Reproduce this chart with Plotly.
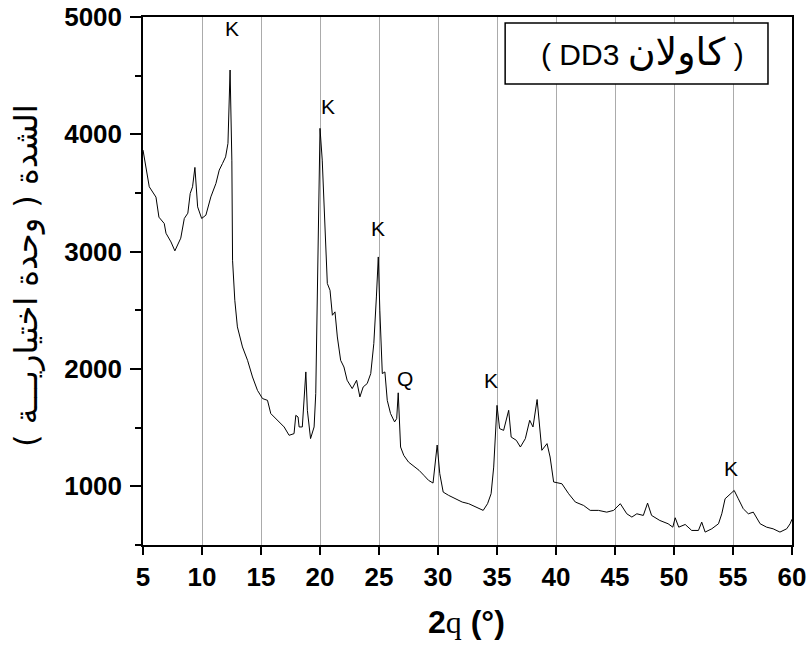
import plotly.graph_objects as go

two_theta = [5.0, 5.53, 6.1, 6.35, 6.8, 6.95, 7.37, 7.7, 8.2, 8.5, 8.8, 9.0, 9.2, 9.4, 9.63, 9.97,
             10.33, 10.75, 11.18, 11.46, 11.74, 12.0, 12.2, 12.38, 12.53, 12.59, 12.78, 13.0, 13.43,
             13.86, 14.28, 14.7, 15.13, 15.55, 15.83, 16.4, 16.96, 17.38, 17.8, 17.95, 18.14, 18.23,
             18.5, 18.8, 18.93, 19.2, 19.5, 19.64, 19.84, 20.0, 20.19, 20.33, 20.62, 20.85, 21.05,
             21.27, 21.47, 21.75, 22.03, 22.3, 22.73, 23.1, 23.38, 23.66, 24.0, 24.3, 24.56, 24.78,
             24.94, 25.07, 25.28, 25.5, 25.7, 25.98, 26.32, 26.5, 26.63, 26.83, 27.1, 27.5, 27.95,
             28.4, 28.8, 29.2, 29.58, 29.93, 30.15, 30.44, 30.9, 31.48, 32.05, 32.6, 33.18, 33.83,
             34.2, 34.5, 34.72, 34.87, 35.0, 35.22, 35.56, 35.99, 36.2, 36.64, 36.98, 37.4, 37.77,
             38.05, 38.4, 38.8, 39.24, 39.5, 39.8, 40.5, 41.07, 41.64, 42.34, 42.9, 43.6, 44.3,
             44.88, 45.45, 46.0, 46.43, 46.85, 47.4, 47.76, 48.1, 48.8, 49.5, 49.9, 50.1, 50.4,
             50.95, 51.5, 52.07, 52.35, 52.64, 53.2, 53.77, 54.05, 54.33, 54.75, 55.1, 55.45, 55.87,
             56.3, 56.72, 57.3, 57.85, 58.4, 58.98, 59.55, 59.84, 60.0]
intensity = [3866, 3553, 3465, 3294, 3240, 3157, 3083, 3007, 3115, 3283, 3328, 3496, 3553, 3718, 3382, 3283,
             3311, 3467, 3581, 3695, 3752, 3808, 3923, 4548, 3780, 2927, 2586, 2359, 2188,
             2074, 1932, 1818, 1748, 1733, 1620, 1563, 1506, 1435, 1449, 1605, 1591, 1506,
             1506, 1975, 1648, 1407, 1506, 1791, 2927, 4051, 3780, 3467, 2729, 2671, 2458,
             2487, 2273, 2074, 2017, 1904, 1833, 1904, 1762, 1847, 1876, 1961, 2216, 2614,
             2955, 2501, 1961, 1975, 1733, 1620, 1549, 1577, 1797, 1335, 1264, 1207, 1170,
             1136, 1094, 1051, 1028, 1352, 1108, 951, 923, 894, 866, 852, 823, 795,
             852, 937, 1164, 1449, 1690, 1492, 1477, 1648, 1420, 1392, 1335, 1406, 1563,
             1506, 1740, 1307, 1364, 1250, 1037, 1022, 937, 866, 837, 795, 795, 780,
             795, 852, 766, 738, 766, 752, 857, 752, 709, 681, 652, 732, 652,
             675, 624, 624, 695, 610, 638, 681, 766, 894, 937, 965, 894, 809,
             766, 780, 681, 652, 638, 610, 638, 681, 720]

peak_labels = ["K", "K", "K", "Q", "K", "K"]
peak_x = [12.5, 20.65, 24.9, 27.2, 34.45, 54.8]
peak_y = [4900, 4235, 3200, 1920, 1900, 1150]

x_ticks = [5, 10, 15, 20, 25, 30, 35, 40, 45, 50, 55, 60]
y_ticks = [1000, 2000, 3000, 4000, 5000]

fig = go.Figure()
fig.add_trace(go.Scatter(x=two_theta, y=intensity, mode="lines",
                         line=dict(color="black", width=1), showlegend=False, hoverinfo="skip"))

for t, px, py in zip(peak_labels, peak_x, peak_y):
    fig.add_annotation(x=px, y=py, text=t, showarrow=False, xanchor="center", yanchor="middle",
                       font=dict(family="Liberation Sans", size=21, color="black"))

fig.add_shape(type="rect", xref="paper", yref="paper", x0=0.558, x1=0.963, y0=0.873, y1=0.9886,
              line=dict(color="black", width=1.5), fillcolor="white", layer="above")
fig.add_annotation(xref="paper", yref="paper", x=0.770, y=0.931, xanchor="center", yanchor="middle",
                   text="( DD3 <span style='font-size:38px'>كاولان</span> )",
                   showarrow=False, font=dict(family="Liberation Sans, DejaVu Sans", size=30, color="black"))

fig.add_annotation(xref="paper", yref="paper", x=-0.18, y=0.51, textangle=-90,
                   xanchor="center", yanchor="middle",
                   text="\u200fالشدة ( وحدة اختياريـــة )\u200f", showarrow=False,
                   font=dict(family="DejaVu Sans", size=32, color="black"))

fig.add_annotation(xref="paper", yref="paper", x=0.498, y=-0.146, xanchor="center", yanchor="middle",
                   showarrow=False,
                   text="<b>2</b><span style='font-family:Liberation Serif;font-weight:normal'>q</span><b> (°)</b>",
                   font=dict(family="Liberation Sans", size=32, color="black"))

fig.update_xaxes(range=[5, 60], tickvals=x_ticks, ticks="outside", ticklen=8, tickwidth=1.5,
                 tickcolor="black", showline=True, linecolor="black", linewidth=1.5, mirror=True,
                 showgrid=True, gridcolor="#ababab", gridwidth=1.2, zeroline=False, automargin=False,
                 ticklabeloverflow="allow",
                 tickfont=dict(family="Liberation Sans", size=26, color="black", weight="bold"))
fig.update_yaxes(range=[500, 5000], tickvals=y_ticks, ticks="outside", ticklen=11, tickwidth=1.5,
                 tickcolor="black", showline=True, linecolor="black", linewidth=1.5, mirror=True,
                 showgrid=False, zeroline=False, automargin=False, ticklabelstandoff=3,
                 ticklabeloverflow="allow",
                 minor=dict(dtick=500, tick0=500, ticks="outside", ticklen=6, tickwidth=1.5, tickcolor="black", showgrid=False),
                 tickfont=dict(family="Liberation Sans", size=26, color="black", weight="bold"))

fig.update_layout(width=807, height=647, margin=dict(l=143, r=15, t=17, b=102, autoexpand=False),
                  plot_bgcolor="white", paper_bgcolor="white")

fig.write_html("out.html", config={"displayModeBar": False},
               post_script="document.body.style.margin='0';document.body.style.overflow='hidden';")
